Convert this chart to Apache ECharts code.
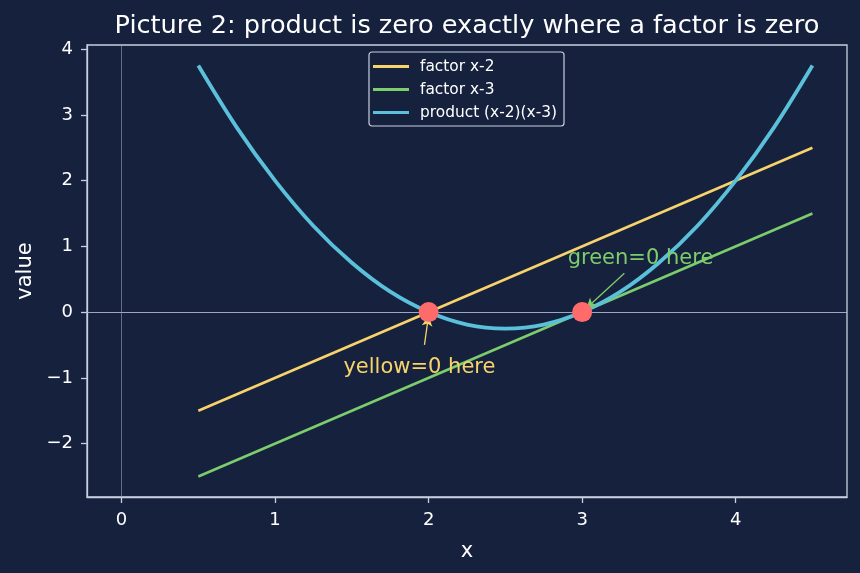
<!DOCTYPE html>
<html><head><meta charset="utf-8">
<script src="https://cdn.jsdelivr.net/npm/echarts@6/dist/echarts.min.js"></script>
<style>html,body{margin:0;padding:0;background:#16213e;}#c{width:860px;height:573px;}</style>
</head><body><div id="c"></div>
<script>
const title = 'Picture 2: product is zero exactly where a factor is zero';
const xTicks = [0, 1, 2, 3, 4];
const yTicks = [-2, -1, 0, 1, 2, 3, 4];
const lineX = [0.5, 4.5];
const factorA = [-1.5, 2.5];   // x-2
const factorB = [-2.5, 1.5];   // x-3
const prodX = [0.5, 0.75, 1.0, 1.25, 1.5, 1.75, 2.0, 2.25, 2.5, 2.75, 3.0, 3.25, 3.5, 3.75, 4.0, 4.25, 4.5];
const prodY = [3.75, 2.81, 2.0, 1.31, 0.75, 0.31, 0, -0.19, -0.25, -0.19, 0, 0.31, 0.75, 1.31, 2.0, 2.81, 3.75];
const roots = [[2, 0], [3, 0]];
const annYellow = {text: 'yellow=0 here', at: [1.94, -0.85], from: [1.973, -0.50], to: [1.999, -0.06]};
const annGreen = {text: 'green=0 here', at: [3.38, 0.82], from: [3.275, 0.59], to: [3.027, 0.06]};

const FONT = 'DejaVu Sans';
const AX = '#c8d0e0';
const C_Y = '#f7d36b', C_G = '#7ccd6c', C_B = '#5bc0d9', C_R = '#ff6b6b';
const fmt = v => String(v).replace('-', '\u2212');
const pairs = (xs, ys) => xs.map((x, i) => [x, ys[i]]);

const chart = echarts.init(document.getElementById('c'), null, {renderer: 'canvas'});
chart.setOption({
  backgroundColor: '#16213e',
  animation: false,
  textStyle: {fontFamily: FONT},
  title: {text: title, left: 462, textAlign: 'center', top: 8,
    textStyle: {color: '#ffffff', fontSize: 25.6, fontWeight: 'normal', fontFamily: FONT}},
  grid: {left: 87, right: 13, top: 45, bottom: 76, show: true, borderColor: AX, borderWidth: 1.3, backgroundColor: 'transparent'},
  legend: {
    orient: 'vertical', left: 369, top: 52, padding: [7, 7, 6, 4],
    backgroundColor: '#16213e', borderColor: AX, borderWidth: 1.2, borderRadius: 3,
    itemWidth: 36, itemHeight: 3, itemGap: 8, icon: 'rect',
    textStyle: {color: '#ffffff', fontSize: 15.4, lineHeight: 15, fontFamily: FONT, padding: [0, 0, 0, 6]},
    data: ['factor x-2', 'factor x-3', 'product (x-2)(x-3)']
  },
  xAxis: {
    type: 'value', min: -0.225, max: 4.725,
    name: 'x', nameLocation: 'middle', nameGap: 44,
    nameTextStyle: {color: '#ffffff', fontSize: 21, fontFamily: FONT},
    axisLine: {show: true, onZero: false, lineStyle: {color: AX, width: 1.3}},
    axisTick: {show: true, length: 6, lineStyle: {color: AX, width: 1.3}, customValues: xTicks},
    axisLabel: {color: '#ffffff', fontSize: 18, margin: 14, formatter: fmt, customValues: xTicks},
    splitLine: {show: false}
  },
  yAxis: {
    type: 'value', min: -2.8125, max: 4.0625,
    name: 'value', nameLocation: 'middle', nameGap: 51,
    nameTextStyle: {color: '#ffffff', fontSize: 21, fontFamily: FONT},
    axisLine: {show: true, onZero: false, lineStyle: {color: AX, width: 1.3}},
    axisTick: {show: true, length: 6, lineStyle: {color: AX, width: 1.3}, customValues: yTicks},
    axisLabel: {color: '#ffffff', fontSize: 18, margin: 14, formatter: fmt, customValues: yTicks},
    splitLine: {show: false}
  },
  series: [
    {
      name: 'zero-lines', type: 'line', data: [], silent: true,
      markLine: {silent: true, symbol: ['none', 'none'], label: {show: false},
        data: [
          {yAxis: 0, lineStyle: {color: '#b8bdd6', width: 1.2, type: 'solid', opacity: 0.85}},
          {xAxis: 0, lineStyle: {color: '#9aa0b8', width: 1, type: 'solid', opacity: 0.6}}
        ]}
    },
    {name: 'factor x-2', type: 'line', data: pairs(lineX, factorA), showSymbol: false,
      lineStyle: {color: C_Y, width: 2.6}, itemStyle: {color: C_Y}, z: 3},
    {name: 'factor x-3', type: 'line', data: pairs(lineX, factorB), showSymbol: false,
      lineStyle: {color: C_G, width: 2.6}, itemStyle: {color: C_G}, z: 3},
    {name: 'product (x-2)(x-3)', type: 'line', data: pairs(prodX, prodY), showSymbol: false, smooth: 0.35,
      lineStyle: {color: C_B, width: 3.8}, itemStyle: {color: C_B}, z: 4},
    {name: 'roots', type: 'scatter', data: roots, symbolSize: 20, itemStyle: {color: C_R, opacity: 1}, z: 6},
    {
      name: 'annotations', type: 'line', data: [], silent: true, z: 7,
      markLine: {silent: true, symbol: ['none', 'arrow'], symbolSize: [8, 10], label: {show: false},
        data: [
          [{coord: annYellow.from, lineStyle: {color: C_Y, width: 1.3, type: 'solid'}}, {coord: annYellow.to}],
          [{coord: annGreen.from, lineStyle: {color: C_G, width: 1.3, type: 'solid'}}, {coord: annGreen.to}]
        ]},
      markPoint: {silent: true, symbol: 'circle', symbolSize: 0,
        data: [
          {coord: annYellow.at, label: {show: true, formatter: annYellow.text, color: C_Y, fontSize: 21, fontFamily: FONT, position: 'inside'}},
          {coord: annGreen.at, label: {show: true, formatter: annGreen.text, color: C_G, fontSize: 21, fontFamily: FONT, position: 'inside'}}
        ]}
    }
  ]
});
</script></body></html>
